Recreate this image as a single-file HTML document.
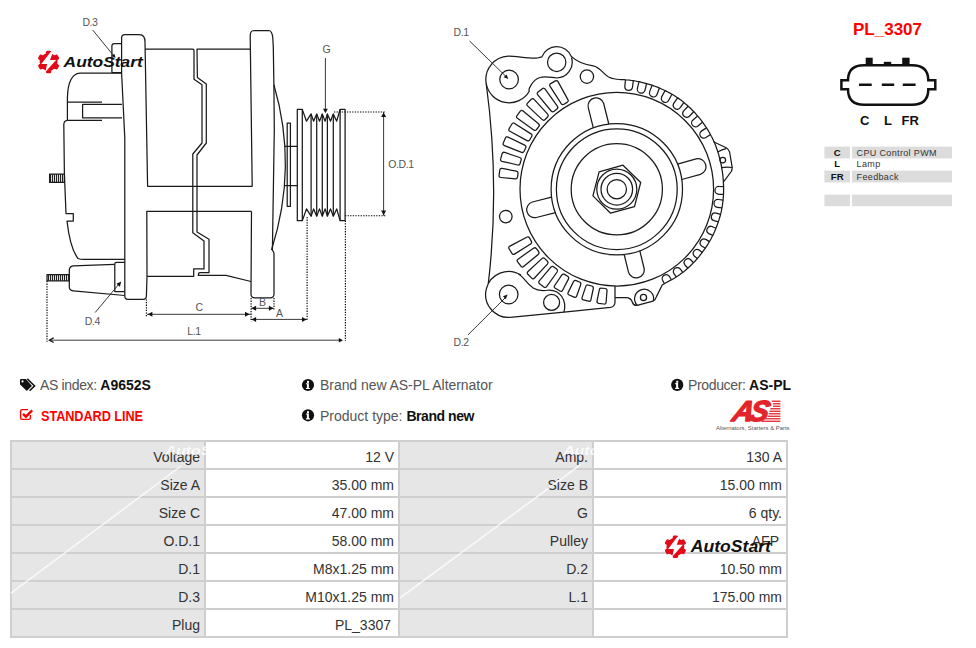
<!DOCTYPE html>
<html><head><meta charset="utf-8">
<style>
html,body{margin:0;padding:0;background:#fff;}
body{width:976px;height:648px;position:relative;overflow:hidden;font-family:"Liberation Sans",sans-serif;}
.abs{position:absolute;white-space:nowrap;}
#tbl{position:absolute;left:10px;top:440px;width:778px;height:198px;background:#cfcfcf;}
.cell{position:absolute;height:26px;line-height:30px;font-size:14px;color:#333;text-align:right;box-sizing:content-box;}
.info{font-size:14px;color:#555;}
.info b{color:#111;}
</style></head><body>
<svg width="976" height="360" viewBox="0 0 976 360" style="position:absolute;left:0;top:0">
<defs><pattern id="thr" width="2" height="10" patternUnits="userSpaceOnUse"><rect width="2" height="10" fill="#ddd"/><rect width="1" height="10" fill="#222"/></pattern></defs>
<g fill="none" stroke="#1a1a1a" stroke-width="1.25" stroke-linejoin="round">
<path d="M124.8,296 L124.8,138 L121.6,73 L121.6,38 Q121.6,34.6 125,34.6 L139.5,34.6 Q145,34.6 145,42 L147.6,186.3 L252.5,186.3"/>
<path d="M251.5,211.4 L146.8,211.4 L147,276 L146.4,296 Q146.4,299.4 143,299.4 L128,299.4 Q124.8,299.4 124.8,296"/>
<path d="M145,49.2 L192.8,49.2 Q194,49.2 194,51 L194,79.3 L202,84.8 L202,143 L192.8,154 L192.8,232.8 L204,241 L204,268.9 L193.7,268.9 L193.7,276.3 L147,276.3"/>
<path d="M250.5,49.2 L197,49.2 L197.4,77.4 L206.3,84 L206.3,143 L197,155 L197,232 L209,239.3 L209,272.6 L200,272.6 Q198.3,272.6 198.3,275.4 L226,275.4 L251,281.5"/>
<path d="M252.2,186.3 L250.2,36 Q250.2,30.6 254,30.5 L268.9,30.5 Q272.2,31 272.8,38 L273.3,47.6 L273.9,84.8 L274.3,130 L272.4,250 L274,253 L274,294 Q274,297.8 270,297.8 L255,297.8 Q251,297.8 251,294 L251.5,211.4"/>
<path d="M273.9,84.8 Q298,167 271.5,250"/>
<path d="M284.4,146.3 L297.3,146.3 M284.4,185.6 L297.3,185.6"/>
<rect x="287.2" y="123.1" width="3.2" height="83.2"/>
<rect x="297.3" y="109.4" width="5" height="111.3"/>
<rect x="340.1" y="109.4" width="5" height="111.3"/>
<polyline points="302.3,109.4 306.5,121.2 311.1,113.9 313.6,121.2 316.7,113.9 319.5,121.2 322.3,113.9 325.1,121.2 327.4,113.9 330.5,121.2 333.3,113.9 336.7,121.2 340.1,109.4"/>
<polyline points="302.3,220.7 306.5,208.9 311.1,216.2 313.6,208.9 316.7,216.2 319.5,208.9 322.3,216.2 325.1,208.9 327.4,216.2 330.5,208.9 333.3,216.2 336.7,208.9 340.1,220.7"/>
<line x1="311.1" y1="113.9" x2="311.1" y2="216.2"/>
<line x1="316.7" y1="113.9" x2="316.7" y2="216.2"/>
<line x1="322.3" y1="113.9" x2="322.3" y2="216.2"/>
<line x1="327.4" y1="113.9" x2="327.4" y2="216.2"/>
<line x1="333.3" y1="113.9" x2="333.3" y2="216.2"/>
<path d="M121.6,73.2 L80,73.2 Q68,74 67.4,98 L67.4,120.4 Q64,120.6 63.8,124.5 L64.4,174 L66,213.5 L73.3,213.5 L73.3,221 L67,221 Q70,248 78,258.5 Q80,259.4 84,259.4 L124.8,259.4"/>
<path d="M67.2,102.2 L102,102.2 M67.2,120.4 L102,120.4"/>
<path d="M122,104.4 L82.6,104.4 L82.6,117.8 L122,117.8"/>
<path d="M121.6,72.6 L111.9,72.6 L111.9,46 Q111.9,43.5 114.4,43.5 L121.6,43.5"/>
<path d="M114.8,264.3 L73.2,265.9 Q69.3,266.5 69.3,270 L69.3,287 Q69.3,290.4 73.2,290.8 L124.8,295.5"/>
<path d="M114.8,292 L114.8,264 Q114.8,262.3 116.5,262.3 L124.8,262.3 M114.8,291.6 L124.8,291.6"/>
<rect x="49.6" y="174.2" width="14.8" height="8.2" fill="url(#thr)"/>
<rect x="47" y="274.7" width="22.3" height="6.1" fill="url(#thr)"/>
<circle cx="616.8" cy="189.2" r="9.7"/>
<circle cx="616.8" cy="189.2" r="15.8"/>
<circle cx="616.8" cy="189.2" r="20.0"/>
<circle cx="616.8" cy="189.2" r="45.6"/>
<circle cx="616.8" cy="189.2" r="60.4"/>
<circle cx="616.8" cy="189.2" r="65.7"/>
<circle cx="616.8" cy="189.2" r="96.8"/>
<polygon points="623.0,165.2 640.7,182.5 634.5,206.6 610.6,213.2 592.9,195.9 599.1,171.8"/>
<path d="M593.3,127.9 L588.2,107.4 A8,8 0 0 1 603.7,103.5 L608.8,124.0"/>
<path d="M677.5,164.1 L696.1,158.9 A8,8 0 0 1 700.4,174.3 L681.8,179.5"/>
<path d="M639.8,250.7 L644.0,268.0 A8,8 0 0 1 628.4,271.8 L624.2,254.5"/>
<path d="M555.5,212.7 L536.3,217.5 A8,8 0 0 1 532.4,202.0 L551.6,197.2"/>
<circle cx="509.1" cy="79.5" r="9.3"/>
<circle cx="556.7" cy="62.3" r="9.2"/>
<circle cx="508.7" cy="294.5" r="9.3"/>
<circle cx="586.9" cy="76.6" r="6.7"/>
<circle cx="505.8" cy="216.6" r="6.3"/>
<circle cx="551.6" cy="302.4" r="8.0"/>
<circle cx="643.5" cy="297.5" r="3.1"/>
<circle cx="722.8" cy="160.1" r="2.8"/>
<path d="M488.3,283.5 Q500,185 486.2,83.5 A23.3,23.3 0 0 1 508.3,56.2 C516,56 530,59 537.4,58 Q540,57.5 541.9,56.9 A15.8,15.8 0 0 1 571.3,56.4 C576,61 584,64.5 593.3,65.9 C600,67 604,75 609.1,77.3 Q613,79.3 620,79.5 L620.1,79.5 L622.0,79.6 L623.9,79.7 L625.8,79.9 L627.7,80.0 L629.6,80.2 L631.5,80.5 L633.4,80.7 L635.3,81.0 L637.2,81.4 L639.1,81.7 L640.9,82.2 L642.8,82.6 L644.6,83.1 L646.5,83.6 L648.3,84.1 L650.2,84.6 L652.0,85.2 L653.8,85.9 L655.6,86.5 L657.4,87.2 L659.2,87.9 L660.9,88.7 L662.7,89.5 L664.4,90.3 L666.1,91.1 L667.8,92.0 L669.5,92.9 L671.2,93.8 L672.9,94.8 L674.5,95.8 L676.1,96.8 L677.7,97.9 L679.3,98.9 L680.9,100.1 L682.4,101.2 L683.9,102.4 L685.3,103.7 L686.8,104.9 L688.2,106.2 L689.6,107.5 L691.0,108.8 L692.3,110.2 L693.7,111.5 L695.0,112.9 L696.2,114.3 L697.5,115.8 L698.7,117.2 L699.9,118.7 L701.1,120.2 L702.2,121.7 L703.4,123.3 L704.5,124.8 L705.5,126.4 L706.6,128.0 L707.6,129.6 L708.6,131.2 L709.5,132.8 L710.4,134.5 L711.3,136.2 L712.2,137.8 L713.0,139.5 L713.8,141.3 L714.6,143.0 L715.3,144.7 L716.0,146.5 L716.6,148.3 L717.2,150.0 L717.8,151.8 L718.4,153.6 L718.9,155.4 L719.4,157.3 L719.8,159.1 L720.3,160.9 L720.7,162.7 L721.1,164.5 L721.5,166.4 L721.8,168.2 L722.1,170.1 L722.4,171.9 L722.6,173.8 L722.9,175.6 L723.0,177.5 L723.2,179.3 L723.3,181.2 L723.4,183.1 L723.5,184.9 L723.6,186.8 L723.6,188.6 L723.6,190.5 L723.6,192.4 L723.5,194.2 L723.4,196.1 L723.2,198.0 L723.1,199.8 L722.9,201.7 L722.6,203.5 L722.4,205.4 L722.1,207.2 L721.7,209.0 L721.4,210.9 L721.0,212.7 L720.5,214.5 L720.1,216.3 L719.5,218.1 L719.0,219.9 L718.4,221.6 L717.8,223.4 L717.2,225.1 L716.5,226.9 L715.8,228.6 L715.1,230.3 L714.4,232.0 L713.6,233.7 L712.8,235.4 L711.9,237.0 L711.1,238.7 L710.2,240.3 L709.2,241.9 L708.3,243.5 L707.3,245.1 L706.3,246.7 L705.3,248.2 L704.2,249.7 L703.1,251.2 L702.0,252.7 L700.9,254.2 L699.7,255.6 L698.6,257.1 L697.4,258.5 L696.1,259.9 L694.9,261.3 L693.6,262.6 L692.3,263.9 L691.0,265.2 L689.7,266.5 L688.3,267.8 L686.9,269.0 L685.5,270.2 L684.1,271.4 L682.6,272.5 L681.1,273.6 L679.6,274.7 L678.1,275.7 L676.5,276.7 L675.0,277.7 L673.4,278.7 L671.8,279.6 L670.1,280.5 L668.5,281.4 L666.9,282.2 L662.2,285 L656.7,296.1 Q655.5,300 653,301.2 L637.2,305.4 Q633.5,305.8 632.5,302.5 Q631,297.5 626,297.5 L615,297.5"/>
<path d="M615,286 L615,302.5 Q614.5,306.8 610.5,307.4 L564,312.1 L510.3,317.4"/>
<path d="M510.3,317.4 A23.0,23.0 0 1 1 520.9,275.0"/>
<path d="M518.4,274 C524,277 526,283 533.2,288.1 C537,290.6 543,291 549.2,290 C560,290 567,300 564,312.1"/>
<path d="M637.2,305.2 A9.5,9.5 0 1 1 653.4,300.8"/>
<path d="M486.2,83.5 A23.3,23.3 0 0 0 529.3,91.2 C528,90 532,80 540,77.5 C546,76 551,77.6 556.7,78 A15.8,15.8 0 0 0 571.5,57.5"/>
<path d="M713.5,141.8 L726.2,147.7 Q729,149.5 729.6,152 L732.2,167.3 Q732.2,169.5 731.3,171.5 L723.7,181.7"/>
<path d="M717.7,152 Q722,149.5 726.2,148.6 M721.1,167.7 Q727,166.8 732.2,167.5"/>
<path d="M517.5,177.1 Q517.2,179.0 515.3,178.9 L500.8,177.5 Q498.8,177.4 499.1,175.4 L499.8,170.0 Q500.1,168.1 502.1,168.4 L516.3,171.1 Q518.3,171.5 518.0,173.5 Z"/>
<path d="M520.1,163.5 Q519.6,165.5 517.6,165.0 L502.0,161.3 Q500.1,160.8 500.7,158.9 L502.1,153.7 Q502.7,151.8 504.6,152.4 L519.8,157.5 Q521.7,158.1 521.1,160.1 Z"/>
<path d="M524.3,151.1 Q523.5,153.0 521.6,152.3 L504.4,145.6 Q502.5,144.9 503.3,143.0 L505.4,138.1 Q506.2,136.2 508.0,137.1 L524.7,145.1 Q526.5,146.0 525.7,147.8 Z"/>
<path d="M529.8,139.8 Q528.8,141.6 527.0,140.6 L509.9,131.3 Q508.1,130.4 509.1,128.7 L511.9,124.0 Q512.9,122.3 514.6,123.4 L531.0,133.9 Q532.7,135.0 531.6,136.7 Z"/>
<path d="M536.6,129.5 Q535.4,131.1 533.7,129.9 L517.4,118.3 Q515.8,117.1 517.0,115.5 L520.3,111.2 Q521.6,109.7 523.1,110.9 L538.5,123.8 Q540.0,125.0 538.8,126.6 Z"/>
<path d="M545.1,119.5 Q543.6,120.9 542.2,119.6 L527.6,105.9 Q526.1,104.5 527.5,103.1 L531.3,99.3 Q532.8,97.9 534.1,99.4 L547.7,114.1 Q549.0,115.6 547.6,117.0 Z"/>
<path d="M554.1,111.3 Q552.5,112.5 551.2,111.0 L537.8,94.8 Q536.5,93.3 538.1,92.1 L542.3,88.8 Q543.9,87.5 545.1,89.2 L557.3,106.2 Q558.5,107.9 556.9,109.1 Z"/>
<path d="M564.0,104.2 Q562.3,105.2 561.2,103.6 L550.1,86.3 Q549.0,84.7 550.7,83.6 L555.4,80.9 Q557.1,79.9 558.0,81.6 L567.9,99.6 Q568.9,101.4 567.1,102.4 Z"/>
<path d="M531.3,241.1 Q532.3,242.8 530.6,243.9 L514.5,254.1 Q512.9,255.1 511.9,253.4 L509.1,248.7 Q508.1,247.0 509.9,246.1 L526.7,237.2 Q528.5,236.2 529.5,237.9 Z"/>
<path d="M538.6,251.5 Q539.8,253.1 538.2,254.4 L523.6,266.5 Q522.1,267.8 520.9,266.2 L517.6,261.9 Q516.4,260.3 518.0,259.2 L533.5,248.2 Q535.2,247.1 536.4,248.6 Z"/>
<path d="M547.4,261.2 Q548.8,262.6 547.4,264.1 L534.5,278.0 Q533.1,279.5 531.7,278.1 L527.9,274.3 Q526.5,272.9 528.0,271.5 L541.9,258.6 Q543.4,257.2 544.8,258.6 Z"/>
<path d="M556.7,269.1 Q558.2,270.3 557.1,272.0 L546.6,286.6 Q545.4,288.2 543.8,287.0 L539.6,283.7 Q538.0,282.4 539.3,280.9 L550.9,267.2 Q552.2,265.7 553.8,266.9 Z"/>
<path d="M567.6,276.3 Q569.3,277.3 568.4,279.1 L562.6,290.2 Q561.7,292.0 560.0,291.0 L555.3,288.2 Q553.6,287.2 554.7,285.5 L561.7,275.1 Q562.8,273.4 564.5,274.4 Z"/>
<path d="M579.5,282.0 Q581.4,282.8 580.7,284.7 L576.7,296.0 Q576.0,297.9 574.1,297.1 L569.2,295.0 Q567.3,294.2 568.2,292.4 L573.5,281.6 Q574.4,279.8 576.2,280.6 Z"/>
<path d="M591.8,286.0 Q593.7,286.6 593.3,288.5 L590.9,299.8 Q590.5,301.8 588.5,301.2 L583.3,299.8 Q581.4,299.2 582.1,297.4 L585.8,286.4 Q586.4,284.5 588.3,285.1 Z"/>
<path d="M605.2,288.5 Q607.2,288.8 607.0,290.8 L606.1,302.3 Q606.0,304.3 604.0,304.0 L598.6,303.3 Q596.7,303.0 597.0,301.1 L599.3,289.8 Q599.6,287.8 601.6,288.1 Z"/>
<path d="M625.5,79.8 L624.8,86.5 A3.9,3.9 0 0 0 632.5,87.4 L633.3,80.7"/>
<path d="M639.0,81.7 L637.4,88.3 A3.9,3.9 0 0 0 645.0,90.2 L646.6,83.5"/>
<path d="M652.1,85.2 L649.7,91.6 A3.9,3.9 0 0 0 657.0,94.4 L659.4,88.0"/>
<path d="M665.1,90.5 L661.8,96.6 A3.9,3.9 0 0 0 668.7,100.3 L671.9,94.2"/>
<path d="M677.7,97.8 L673.7,103.4 A3.9,3.9 0 0 0 680.0,107.9 L684.0,102.3"/>
<path d="M688.1,106.2 L683.7,110.9 A3.9,3.9 0 0 0 689.4,116.2 L693.8,111.5"/>
<path d="M697.6,116.0 L693.0,119.9 A3.9,3.9 0 0 0 698.0,125.9 L702.7,122.0"/>
<path d="M706.5,127.9 L701.7,130.9 A3.9,3.9 0 0 0 705.9,137.5 L710.6,134.5"/>
<path d="M723.6,186.6 L718.9,186.5 A3.9,3.9 0 0 0 718.8,194.3 L723.5,194.4"/>
<path d="M723.1,200.2 L718.4,199.5 A3.9,3.9 0 0 0 717.4,207.3 L722.0,207.9"/>
<path d="M720.6,214.3 L716.1,213.1 A3.9,3.9 0 0 0 714.0,220.6 L718.5,221.8"/>
<path d="M716.0,228.3 L711.9,226.5 A3.9,3.9 0 0 0 708.8,233.6 L712.9,235.4"/>
<path d="M709.4,241.6 L705.8,239.4 A3.9,3.9 0 0 0 701.7,246.0 L705.4,248.3"/>
<path d="M702.3,252.5 L699.0,249.9 A3.9,3.9 0 0 0 694.2,255.9 L697.4,258.6"/>
<path d="M693.5,262.8 L690.7,259.8 A3.9,3.9 0 0 0 685.1,265.2 L687.9,268.2"/>
<path d="M682.8,272.4 L680.4,269.2 A3.9,3.9 0 0 0 674.1,273.8 L676.5,277.0"/>
<path d="M671.3,279.8 L669.6,276.7 A3.9,3.9 0 0 0 662.7,280.5 L664.4,283.6"/>
</g>
<g fill="none" stroke="#000" stroke-width="1.15">
<path d="M47,281 L47,341.8 M146.4,299.4 L146.4,316.3 M251.1,298 L251.1,321.7 M274,298 L274,309.4 M307.1,217 L307.1,321 M345.4,220.7 L345.4,341 M334,112 L385,112 M345,215.7 L386.3,215.7" stroke-dasharray="1.3 1.3"/>
</g>
<g fill="none" stroke="#222" stroke-width="0.9">
<path d="M147,314.3 L251,314.3 M251,308.3 L274,308.3 M251,319.4 L307.1,319.4 M49.5,340.2 L340,340.2 M383.6,112 L383.6,215.7 M325.4,58 L325.4,110 M95.2,312.5 L119,284 M92.7,30 L113.5,55.5"/>
<path d="M469.6,41 L506,76.5 M468,334.9 L505.5,297.5"/>
</g>
<path d="M147.8,314.3 L152.4,311.8 L152.4,316.8 Z" fill="#111" stroke="none"/>
<path d="M249.6,314.3 L245.0,316.8 L245.0,311.8 Z" fill="#111" stroke="none"/>
<path d="M251.5,308.3 L256.1,305.8 L256.1,310.8 Z" fill="#111" stroke="none"/>
<path d="M273.5,308.3 L268.9,310.8 L268.9,305.8 Z" fill="#111" stroke="none"/>
<path d="M251.5,319.4 L256.1,316.9 L256.1,321.9 Z" fill="#111" stroke="none"/>
<path d="M306.6,319.4 L302.0,321.9 L302.0,316.9 Z" fill="#111" stroke="none"/>
<path d="M53.6,337.9 L49.4,340.2 L53.6,342.5" fill="none" stroke="#111" stroke-width="1.2"/>
<path d="M343.0,340.2 L338.8,342.5 L338.8,337.9 Z" fill="#111" stroke="none"/>
<path d="M383.6,112.5 L386.1,117.1 L381.1,117.1 Z" fill="#111" stroke="none"/>
<path d="M383.6,215.2 L381.1,210.6 L386.1,210.6 Z" fill="#111" stroke="none"/>
<path d="M325.4,113.3 L323.0,108.8 L327.8,108.8 Z" fill="#111" stroke="none"/>
<path d="M121.3,281.4 L119.8,286.7 L116.4,283.8 Z" fill="#111" stroke="none"/>
<path d="M115.6,58.0 L111.7,56.1 L114.4,53.8 Z" fill="#111" stroke="none"/>
<path d="M508.3,79.0 L503.7,77.3 L506.5,74.4 Z" fill="#111" stroke="none"/>
<path d="M507.6,294.6 L505.8,299.2 L503.0,296.3 Z" fill="#111" stroke="none"/>
<g fill="#555" font-family="Liberation Sans, sans-serif">
<text x="82.4" y="25.8" font-size="10.5" text-anchor="start" letter-spacing="-0.4">D.3</text>
<text x="84.7" y="324.8" font-size="10.5" text-anchor="start" letter-spacing="-0.4">D.4</text>
<text x="199" y="310.6" font-size="10.5" text-anchor="middle" letter-spacing="-0.4">C</text>
<text x="262.4" y="305.9" font-size="10.5" text-anchor="middle" letter-spacing="-0.4">B</text>
<text x="279.3" y="317.2" font-size="10.5" text-anchor="middle" letter-spacing="-0.4">A</text>
<text x="194" y="334.7" font-size="10.5" text-anchor="middle" letter-spacing="-0.4">L.1</text>
<text x="388.3" y="168.3" font-size="10.5" text-anchor="start" letter-spacing="-0.4">O.D.1</text>
<text x="326.5" y="53.4" font-size="10.5" text-anchor="middle" letter-spacing="-0.4">G</text>
<text x="453.6" y="36.1" font-size="10.5" text-anchor="start" letter-spacing="-0.4">D.1</text>
<text x="453.6" y="346.3" font-size="10.5" text-anchor="start" letter-spacing="-0.4">D.2</text>
</g>
</svg>
<svg width="976" height="648" style="position:absolute;left:0;top:0" font-family="Liberation Sans, sans-serif">
<!-- connector -->
<text x="853" y="34.5" font-size="17" font-weight="bold" fill="#f00">PL_3307</text>
<path d="M864,65.2 L912,65.2 Q928.3,65.2 928.3,80.2 L935.3,80.2 L935.3,89.2 L928.3,89.2 Q928.3,104.7 912,104.7 L864,104.7 Q848,104.7 848,89.2 L841.4,89.2 L841.4,80.2 L848,80.2 Q848,65.2 864,65.2 Z" fill="none" stroke="#111" stroke-width="2.5"/>
<rect x="865.7" y="57.7" width="7" height="7.5" fill="#111"/>
<rect x="883.8" y="61.8" width="7.4" height="3.5" fill="#111"/>
<rect x="902.2" y="57.7" width="7.4" height="7.5" fill="#111"/>
<path d="M859,84.8 L871.7,84.8 M881.8,84.8 L894.2,84.8 M902.8,84.8 L915.6,84.8" stroke="#111" stroke-width="2.5"/>
<g font-size="13" font-weight="bold" fill="#111">
<text x="860" y="124.7">C</text><text x="884" y="124.7">L</text><text x="901.6" y="124.7">FR</text>
</g>
<!-- pin table -->
<g fill="#dcdcdc">
<rect x="824.4" y="146.6" width="25.6" height="11.8"/><rect x="851.9" y="146.6" width="100.1" height="11.8"/>
<rect x="824.4" y="170.6" width="25.6" height="11.8"/><rect x="851.9" y="170.6" width="100.1" height="11.8"/>
<rect x="824.4" y="194.6" width="25.6" height="11.6"/><rect x="851.9" y="194.6" width="100.1" height="11.6"/>
</g>
<g font-size="9" fill="#333">
<g fill="#111" font-size="9.6"><text x="837.2" y="155.8" font-weight="bold" text-anchor="middle">C</text>
<text x="837.2" y="167.3" font-weight="bold" text-anchor="middle">L</text>
<text x="837.2" y="179.5" font-weight="bold" text-anchor="middle">FR</text></g>
<text x="856.6" y="155.8" letter-spacing="0.35">CPU Control PWM</text>
<text x="856.6" y="167.3" letter-spacing="0.35">Lamp</text>
<text x="856.6" y="179.5" letter-spacing="0.35">Feedback</text>
</g>
<!-- logos -->
<g transform="translate(48.6,62) scale(1.0)"><circle r="9.0" fill="#e30a17"/><rect x="-2.7" y="-11.2" width="5.4" height="5" rx="1.5" fill="#e30a17" transform="rotate(0)"/><rect x="-2.7" y="-11.2" width="5.4" height="5" rx="1.5" fill="#e30a17" transform="rotate(60)"/><rect x="-2.7" y="-11.2" width="5.4" height="5" rx="1.5" fill="#e30a17" transform="rotate(120)"/><rect x="-2.7" y="-11.2" width="5.4" height="5" rx="1.5" fill="#e30a17" transform="rotate(180)"/><rect x="-2.7" y="-11.2" width="5.4" height="5" rx="1.5" fill="#e30a17" transform="rotate(240)"/><rect x="-2.7" y="-11.2" width="5.4" height="5" rx="1.5" fill="#e30a17" transform="rotate(300)"/><polygon points="2.0,-10 -7.3,2.1 -1.5,2.1 -3.2,10 7.5,-2.1 1.3,-2.1 4.4,-9.6" fill="#fff"/></g>
<text x="0" y="0" transform="translate(63.6,67) scale(1.16,1)" font-size="15" font-weight="bold" font-style="italic" fill="#111">AutoStart</text>
<!-- info icons -->
<g fill="#111">
<path d="M20.8,378.9 L25.9,378.9 L31.6,385.4 Q31.9,385.9 31.6,386.3 L27.3,390.6 Q26.8,391 26.3,390.6 L20.3,384.7 Q20,384.4 20,383.9 L20,379.7 Q20,378.9 20.8,378.9 Z"/>
<circle cx="22.5" cy="381.4" r="1.1" fill="#fff"/>
<path d="M27.3,378.9 L34.6,385.9 L29.6,390.8" fill="none" stroke="#111" stroke-width="1.5"/>
</g>
<circle cx="308" cy="385" r="6.1" fill="#111"/><rect x="307" y="380.9" width="2" height="2" fill="#fff"/><path d="M306,383.2 L308.9,383.2 L308.9,387.9 L309.9,387.9 L309.9,389.1 L305.9,389.1 L305.9,387.9 L306.9,387.9 L306.9,384.3 L306,384.3 Z" fill="#fff"/><circle cx="308" cy="415.3" r="6.1" fill="#111"/><rect x="307" y="411.2" width="2" height="2" fill="#fff"/><path d="M306,413.5 L308.9,413.5 L308.9,418.2 L309.9,418.2 L309.9,419.40000000000003 L305.9,419.40000000000003 L305.9,418.2 L306.9,418.2 L306.9,414.6 L306,414.6 Z" fill="#fff"/><circle cx="677.2" cy="384.9" r="6.1" fill="#111"/><rect x="676.2" y="380.79999999999995" width="2" height="2" fill="#fff"/><path d="M675.2,383.09999999999997 L678.1,383.09999999999997 L678.1,387.79999999999995 L679.1,387.79999999999995 L679.1,389.0 L675.1,389.0 L675.1,387.79999999999995 L676.1,387.79999999999995 L676.1,384.2 L675.2,384.2 Z" fill="#fff"/>
<!-- checkbox -->
<path d="M28,409.6 L22.2,409.6 Q20.6,409.6 20.6,411.2 L20.6,417.8 Q20.6,419.4 22.2,419.4 L28.8,419.4 Q30.4,419.4 30.4,417.8 L30.4,415" fill="none" stroke="#f00" stroke-width="1.4"/>
<path d="M23,413.9 L25.9,416.7 L32.2,410.4" fill="none" stroke="#f00" stroke-width="2.4"/>
<!-- AS logo -->
<g fill="#e3242b">
<text x="0" y="0" font-size="29" font-weight="bold" font-style="italic" letter-spacing="-4.2" stroke="#e3242b" stroke-width="1.3" stroke-linejoin="round" transform="translate(731,421) skewX(-14)">AS</text>
<rect x="771.7" y="400.6" width="8.7" height="1.3"/><rect x="773" y="403.1" width="7.4" height="1.3"/><rect x="773" y="405.6" width="7.4" height="1.3"/><rect x="770.3" y="408.1" width="10.1" height="1.3"/><rect x="769.4" y="410.6" width="11.0" height="1.3"/><rect x="768.8" y="413.1" width="11.6" height="1.3"/><rect x="767.6" y="415.6" width="12.8" height="1.3"/><rect x="765.2" y="418.1" width="15.2" height="1.3"/><rect x="761.6" y="420.6" width="18.8" height="1.3"/>
</g>
<text x="716" y="429.7" font-size="5.6" fill="#555" textLength="73.5" lengthAdjust="spacingAndGlyphs">Alternators, Starters &amp; Parts</text>
</svg>
<div class="abs info" style="left:40px;top:377px;letter-spacing:-0.35px">AS index: <b style="letter-spacing:0">A9652S</b></div>
<div class="abs" style="left:40.5px;top:407.5px;font-size:14px;font-weight:bold;color:#f00;letter-spacing:-0.1px;transform:scaleX(0.91);transform-origin:0 0">STANDARD LINE</div>
<div class="abs info" style="left:320px;top:377px;letter-spacing:-0.05px">Brand new AS-PL Alternator</div>
<div class="abs info" style="left:320px;top:407.5px;letter-spacing:0px">Product type: <b style="letter-spacing:-0.45px">Brand new</b></div>
<div class="abs info" style="left:688px;top:377px;letter-spacing:-0.35px">Producer: <b style="letter-spacing:0">AS-PL</b></div>
<div id="tbl"><div class="cell" style="left:2px;top:2px;background:#e6e6e6;padding-right:4px;width:188px">Voltage</div><div class="cell" style="left:196px;top:2px;background:#fff;padding-right:4px;width:188px">12 V</div><div class="cell" style="left:390px;top:2px;background:#e6e6e6;padding-right:4px;width:188px">Amp.</div><div class="cell" style="left:584px;top:2px;background:#fff;padding-right:4px;width:188px">130 A</div><div class="cell" style="left:2px;top:30px;background:#e6e6e6;padding-right:4px;width:188px">Size A</div><div class="cell" style="left:196px;top:30px;background:#fff;padding-right:4px;width:188px">35.00 mm</div><div class="cell" style="left:390px;top:30px;background:#e6e6e6;padding-right:4px;width:188px">Size B</div><div class="cell" style="left:584px;top:30px;background:#fff;padding-right:4px;width:188px">15.00 mm</div><div class="cell" style="left:2px;top:58px;background:#e6e6e6;padding-right:4px;width:188px">Size C</div><div class="cell" style="left:196px;top:58px;background:#fff;padding-right:4px;width:188px">47.00 mm</div><div class="cell" style="left:390px;top:58px;background:#e6e6e6;padding-right:4px;width:188px">G</div><div class="cell" style="left:584px;top:58px;background:#fff;padding-right:4px;width:188px">6 qty.</div><div class="cell" style="left:2px;top:86px;background:#e6e6e6;padding-right:4px;width:188px">O.D.1</div><div class="cell" style="left:196px;top:86px;background:#fff;padding-right:4px;width:188px">58.00 mm</div><div class="cell" style="left:390px;top:86px;background:#e6e6e6;padding-right:4px;width:188px">Pulley</div><div class="cell" style="left:584px;top:86px;background:#fff;padding-right:7px;width:185px">AFP</div><div class="cell" style="left:2px;top:114px;background:#e6e6e6;padding-right:4px;width:188px">D.1</div><div class="cell" style="left:196px;top:114px;background:#fff;padding-right:4px;width:188px">M8x1.25 mm</div><div class="cell" style="left:390px;top:114px;background:#e6e6e6;padding-right:4px;width:188px">D.2</div><div class="cell" style="left:584px;top:114px;background:#fff;padding-right:4px;width:188px">10.50 mm</div><div class="cell" style="left:2px;top:142px;background:#e6e6e6;padding-right:4px;width:188px">D.3</div><div class="cell" style="left:196px;top:142px;background:#fff;padding-right:4px;width:188px">M10x1.25 mm</div><div class="cell" style="left:390px;top:142px;background:#e6e6e6;padding-right:4px;width:188px">L.1</div><div class="cell" style="left:584px;top:142px;background:#fff;padding-right:4px;width:188px">175.00 mm</div><div class="cell" style="left:2px;top:170px;background:#e6e6e6;padding-right:4px;width:188px">Plug</div><div class="cell" style="left:196px;top:170px;background:#fff;padding-right:7px;width:185px">PL_3307</div><div class="cell" style="left:390px;top:170px;background:#e6e6e6;padding-right:4px;width:188px"></div><div class="cell" style="left:584px;top:170px;background:#fff;padding-right:4px;width:188px"></div></div>
<svg width="976" height="648" style="position:absolute;left:0;top:0">
<g stroke="#fff" stroke-width="1.6" opacity="0.75">
<line x1="11" y1="593.2" x2="181" y2="466.2"/>
<line x1="400" y1="598" x2="580.8" y2="464.5"/>
</g>
<g fill="#fff" opacity="0.8" font-family="Liberation Sans, sans-serif" font-size="13.5" font-weight="bold" font-style="italic">
<text x="0" y="0" transform="translate(165,455) scale(1.16,1)">AutoStart</text>
<text x="0" y="0" transform="translate(563.5,455) scale(1.16,1)">AutoStart</text>
</g>
</svg>
<svg width="976" height="648" style="position:absolute;left:0;top:0">
<g transform="translate(675.4,546.8) scale(1.0)"><circle r="9.0" fill="#e30a17"/><rect x="-2.7" y="-11.2" width="5.4" height="5" rx="1.5" fill="#e30a17" transform="rotate(0)"/><rect x="-2.7" y="-11.2" width="5.4" height="5" rx="1.5" fill="#e30a17" transform="rotate(60)"/><rect x="-2.7" y="-11.2" width="5.4" height="5" rx="1.5" fill="#e30a17" transform="rotate(120)"/><rect x="-2.7" y="-11.2" width="5.4" height="5" rx="1.5" fill="#e30a17" transform="rotate(180)"/><rect x="-2.7" y="-11.2" width="5.4" height="5" rx="1.5" fill="#e30a17" transform="rotate(240)"/><rect x="-2.7" y="-11.2" width="5.4" height="5" rx="1.5" fill="#e30a17" transform="rotate(300)"/><polygon points="2.0,-10 -7.3,2.1 -1.5,2.1 -3.2,10 7.5,-2.1 1.3,-2.1 4.4,-9.6" fill="#fff"/></g>
<text x="0" y="0" transform="translate(690.7,552) scale(1.13,1)" font-size="15.6" font-weight="bold" font-style="italic" fill="#111" font-family="Liberation Sans, sans-serif">AutoStart</text>
</svg>
</body></html>
